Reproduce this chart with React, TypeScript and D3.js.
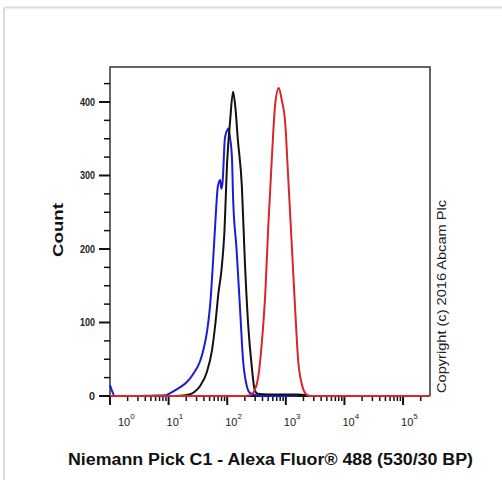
import React from "react";
import * as d3 from "d3";

const width = 502;
const height = 480;

// histogram traces, x stored as log10(intensity)
const blueLog = [0, 0.03, 0.08, 0.5, 0.7, 0.95, 1.05, 1.2, 1.3, 1.42, 1.54, 1.6, 1.66, 1.71, 1.76, 1.8, 1.84, 1.88, 1.9, 1.92, 1.96, 1.99, 2.02, 2.05, 2.08, 2.1, 2.16, 2.22, 2.27, 2.33, 2.39, 2.5, 2.6, 3.2];
const blueCount = [15, 8, 0, 0, 0.5, 1, 5, 12, 18, 30, 48, 65, 90, 125, 185, 240, 285, 294, 282, 290, 350, 360, 364, 350, 326, 270, 199, 117, 49, 15, 4, 1, 0, 0];

const blackLog = [0, 1.0, 1.2, 1.35, 1.45, 1.54, 1.65, 1.74, 1.8, 1.85, 1.9, 1.95, 2.0, 2.05, 2.1, 2.14, 2.18, 2.25, 2.3, 2.36, 2.42, 2.47, 2.52, 2.7, 2.9, 3.2, 3.36, 3.4];
const blackCount = [0, 0, 0.5, 2, 6, 14, 32, 62, 100, 140, 170, 220, 320, 375, 414, 392, 350, 285, 185, 94, 39, 8, 3, 2, 2, 2, 1, 0];

const redLog = [0, 2.3, 2.39, 2.47, 2.53, 2.59, 2.65, 2.7, 2.76, 2.82, 2.88, 2.93, 2.99, 3.04, 3.1, 3.16, 3.21, 3.27, 3.33, 3.4, 5.46];
const redCount = [0, 0, 1, 8, 26, 72, 140, 230, 321, 398, 419, 403, 371, 298, 208, 117, 49, 17, 4, 0, 0];

const yTicks = [0, 100, 200, 300, 400];
const decades = [0, 1, 2, 3, 4, 5];

const xTitle = "Niemann Pick C1 - Alexa Fluor® 488 (530/30 BP)";
const yTitle = "Count";
const copyright = "Copyright (c) 2016 Abcam Plc";

export default function App() {
  const left = 110;
  const right = 430;
  const top = 67;
  const bottom = 396;

  const x = d3.scaleLog().domain([1, Math.pow(10, 5.46)]).range([left, right]);
  const y = d3.scaleLinear().domain([0, 447.6]).range([bottom, top]);

  const line = d3
    .line<[number, number]>()
    .x((d) => x(Math.pow(10, d[0])))
    .y((d) => y(d[1]))
    .curve(d3.curveMonotoneX);

  const toPts = (lg: number[], c: number[]) => lg.map((v, i) => [v, c[i]] as [number, number]);

  // minor ticks on the log axis
  const minorX: number[] = [];
  decades.forEach((k) => {
    for (let m = 2; m <= 9; m++) {
      const v = m * Math.pow(10, k);
      if (v <= x.domain()[1]) minorX.push(v);
    }
  });
  const minorY = d3.range(25, 447, 25).filter((v) => v % 100 !== 0);

  const series = [
    { pts: toPts(blueLog, blueCount), color: "#1c1cd6" },
    { pts: toPts(blackLog, blackCount), color: "#111111" },
    { pts: toPts(redLog, redCount), color: "#d8262a" },
  ];

  return (
    <svg
      width={width}
      height={height}
      style={{ position: "absolute", left: 0, top: 0, background: "#fff" }}
      fontFamily="'Liberation Sans', Arial, sans-serif"
    >
      {/* outer light border */}
      <line x1={4} y1={7.5} x2={width} y2={7.5} stroke="#dcdcdc" strokeWidth={2} />
      <line x1={4} y1={7.5} x2={4} y2={height} stroke="#dcdcdc" strokeWidth={2} />

      {/* frame */}
      <path
        d={`M${left},${bottom} V${top} H${right} V${bottom}`}
        fill="none"
        stroke="#333"
        strokeWidth={1.5}
      />
      <line x1={left - 1} y1={bottom} x2={right} y2={bottom} stroke="#111" strokeWidth={2} />

      {/* y ticks */}
      {yTicks.map((t) => (
        <g key={"y" + t}>
          <line x1={left - 11} x2={left} y1={y(t)} y2={y(t)} stroke="#111" strokeWidth={2} />
          <text
            x={95}
            y={y(t) + 4}
            textAnchor="end"
            fontSize={11}
            fontWeight="bold"
            fill="#222"
            textLength={t === 0 ? 6 : 15}
            lengthAdjust="spacingAndGlyphs"
          >
            {t}
          </text>
        </g>
      ))}
      {minorY.map((t) => (
        <line key={"my" + t} x1={left - 6} x2={left} y1={y(t)} y2={y(t)} stroke="#111" strokeWidth={1.5} />
      ))}

      {/* x ticks */}
      {decades.map((k) => {
        const px = x(Math.pow(10, k));
        const sx = Math.max(px - 2, 118);
        return (
          <g key={"x" + k}>
            <line x1={px} x2={px} y1={bottom} y2={bottom + 9} stroke="#111" strokeWidth={2} />
            <text x={sx} y={426} fontSize={11} fill="#222">
              10
              <tspan fontSize={8} dy={-7}>
                {k}
              </tspan>
            </text>
          </g>
        );
      })}
      {minorX.map((v, i) => (
        <line key={"mx" + i} x1={x(v)} x2={x(v)} y1={bottom} y2={bottom + 5} stroke="#111" strokeWidth={1.5} />
      ))}

      {/* histograms */}
      {series.map((s, i) => (
        <path key={i} d={line(s.pts) || ""} fill="none" stroke={s.color} strokeWidth={2} strokeLinejoin="round" />
      ))}

      {/* titles */}
      <text
        x={68}
        y={465}
        fontSize={16}
        fontWeight="bold"
        fill="#111"
        textLength={405}
        lengthAdjust="spacingAndGlyphs"
      >
        {xTitle}
      </text>
      <text
        transform="translate(63,230) rotate(-90)"
        textAnchor="middle"
        fontSize={15}
        fontWeight="bold"
        fill="#111"
        textLength={54}
        lengthAdjust="spacingAndGlyphs"
      >
        {yTitle}
      </text>
      <text
        transform="translate(446,393) rotate(-90)"
        fontSize={13}
        fill="#222"
        textLength={193}
        lengthAdjust="spacingAndGlyphs"
      >
        {copyright}
      </text>
    </svg>
  );
}
